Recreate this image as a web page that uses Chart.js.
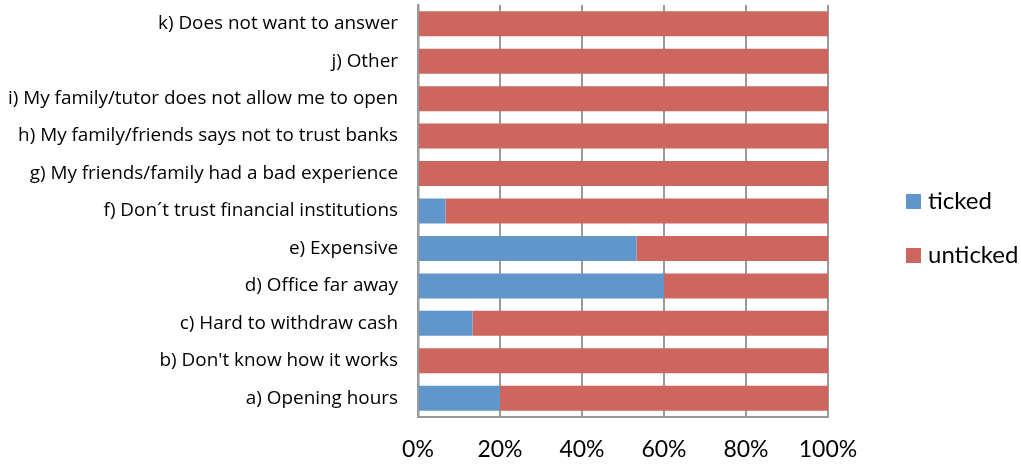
<!DOCTYPE html>
<html>
<head>
<meta charset="utf-8">
<script src="https://cdn.jsdelivr.net/npm/chart.js@4/dist/chart.umd.min.js"></script>
<style>
  html, body { margin: 0; padding: 0; background: #fff; }
  #wrap { width: 1021px; height: 464px; position: relative; }
</style>
</head>
<body>
<div id="wrap"><canvas id="c" width="1021" height="464"></canvas></div>
<script>
// Reasons for not opening a bank account (share of respondents)
const categories = [
  "a) Opening hours",
  "b) Don't know how it works",
  "c) Hard to withdraw cash",
  "d) Office far away",
  "e) Expensive",
  "f) Don\u00b4t trust financial institutions",
  "g) My friends/family had a bad experience",
  "h) My family/friends says not to trust banks",
  "i) My family/tutor does not allow me to open",
  "j) Other",
  "k) Does not want to answer"
];
const ticked   = [20, 0, 13.3, 60, 53.3, 6.7, 0, 0, 0, 0, 0];
const unticked = [80, 100, 86.7, 40, 46.7, 93.3, 100, 100, 100, 100, 100];
const seriesNames = ["ticked", "unticked"];
const xTicks = [0, 20, 40, 60, 80, 100];

const LABEL_FONT = "'Open Sans', Lato, sans-serif";
const TICK_FONT = "Lato, 'Open Sans', sans-serif";
const BLUE = "#6096CA";
const RED = "#CD665E";
const GRID = "#9a9a9a";

// Vertical legend drawn to the right of the plot
const sideLegend = {
  id: "sideLegend",
  afterDraw(chart) {
    const ctx = chart.ctx;
    const x = 906;
    const ys = [201, 255];
    ctx.save();
    chart.data.datasets.forEach((ds, i) => {
      ctx.fillStyle = ds.backgroundColor;
      ctx.fillRect(x, ys[i] - 7, 15, 15);
      ctx.fillStyle = "#000";
      ctx.font = "24px " + TICK_FONT;
      ctx.textBaseline = "middle";
      ctx.textAlign = "left";
      ctx.fillText(ds.label, x + 22, ys[i]);
    });
    ctx.restore();
  }
};

new Chart(document.getElementById("c"), {
  type: "bar",
  data: {
    labels: categories,
    datasets: [
      { label: seriesNames[0], data: ticked, backgroundColor: BLUE },
      { label: seriesNames[1], data: unticked, backgroundColor: RED }
    ]
  },
  options: {
    indexAxis: "y",
    responsive: false,
    animation: false,
    devicePixelRatio: 1,
    layout: { padding: { top: 5, right: 193, bottom: 0, left: 0 } },
    datasets: { bar: { categoryPercentage: 1, barPercentage: 0.667 } },
    plugins: { legend: { display: false }, tooltip: { enabled: false } },
    scales: {
      x: {
        stacked: true,
        min: 0,
        max: 100,
        afterBuildTicks(scale) { scale.ticks = xTicks.map(v => ({ value: v })); },
        afterFit(scale) {
          scale.height = 47;
          scale.paddingTop = 0;
          scale.paddingBottom = 0;
        },
        ticks: {
          padding: 19,
          color: "#000",
          maxRotation: 0,
          font: { family: TICK_FONT, size: 23 },
          callback: v => v + "%"
        },
        grid: { color: GRID, lineWidth: 2, drawTicks: false },
        border: { display: true, color: GRID, width: 2 }
      },
      y: {
        stacked: true,
        reverse: true,
        afterFit(scale) {
          scale.width = 418;
          scale.paddingTop = 0;
          scale.paddingBottom = 0;
        },
        ticks: {
          padding: 20,
          color: "#000",
          font: { family: LABEL_FONT, size: 18.9 },
          autoSkip: false
        },
        grid: { display: false, drawTicks: false },
        border: { display: true, color: GRID, width: 2.5 }
      }
    }
  },
  plugins: [sideLegend]
});
</script>
</body>
</html>
